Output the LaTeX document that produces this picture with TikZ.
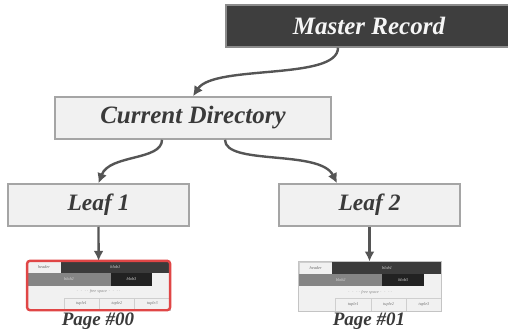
\documentclass[tikz,border=0pt]{standalone}
\usepackage{fontspec}
\setmainfont{Liberation Serif}
\usetikzlibrary{arrows.meta}
\definecolor{boxfill}{HTML}{F1F1F1}
\definecolor{boxline}{HTML}{A5A5A5}
\definecolor{darkfill}{HTML}{3E3E3E}
\definecolor{txtc}{HTML}{3A3A3A}
\definecolor{arrowc}{HTML}{555555}
\definecolor{pgred}{HTML}{E04646}
\definecolor{pgline}{HTML}{C4C4C4}
\definecolor{blobA}{HTML}{3B3B3B}
\definecolor{blobB}{HTML}{858585}
\definecolor{blobC}{HTML}{222222}
\definecolor{cellline}{HTML}{CFCFCF}
\tikzset{
  lbox/.style={draw=boxline, line width=1.5pt, fill=boxfill, minimum height=42pt,
    inner sep=0pt, text=txtc, font=\bfseries\itshape\fontsize{25}{28}\selectfont},
  arr/.style={draw=arrowc, line width=2.4pt, -{Latex[length=10pt,width=10pt]}},
  pgbg/.style={fill=boxfill, draw=none, minimum width=142.7pt, minimum height=49pt, inner sep=0pt},
  cell/.style={anchor=north west, inner sep=0pt, draw=none,
    font=\itshape\fontsize{4.3}{5}\selectfont},
  tcell/.style={cell, fill=boxfill, draw=cellline, line width=0.5pt, minimum width=35.4pt,
    minimum height=12.3pt, text=black!55},
  pglabel/.style={text=txtc, font=\bfseries\itshape\fontsize{19}{21}\selectfont, inner sep=0pt},
  pagepic/.pic={
    \node[cell, fill=boxfill, draw=cellline, line width=0.4pt, minimum width=33.5pt, minimum height=12pt, text=black!60] (-hd) at (0,0) {header};
    \node[cell, fill=blobA, minimum width=109.2pt, minimum height=12pt, text=white!85!black] (-b1) at (33.5,0) {blob1};
    \node[cell, fill=blobB, minimum width=83.5pt, minimum height=12.5pt, text=white!85!black] (-b2) at (0,12) {blob2};
    \node[cell, fill=blobC, minimum width=41.5pt, minimum height=12.5pt, text=white!85!black] (-b3) at (83.5,12) {blob3};
    \node[cell, anchor=center, text=black!45] (-fs) at (71.4,30.5) {$\cdot\cdot\cdot\cdot$ free space $\cdot\cdot\cdot\cdot$};
    \node[tcell] (-t1) at (36.5,36.7) {tuple1};
    \node[tcell] (-t2) at (71.9,36.7) {tuple2};
    \node[tcell] (-t3) at (107.3,36.7) {tuple3};
  }
}
\begin{document}
\begin{tikzpicture}[x=1pt,y=-1pt]
\useasboundingbox (0,0) rectangle (508,331);
\fill[white] (0,0) rectangle (508,331);

\node[lbox, fill=darkfill, draw=boxline!85!black, text=white!96!black, minimum width=286pt] (master) at (369,26) {Master Record};
\node[lbox, minimum width=276pt] (cd) at (193,118) {Current Directory};
\node[lbox, minimum width=181pt, font=\bfseries\itshape\fontsize{23.5}{26}\selectfont] (leaf1) at (98.5,205) {Leaf 1};
\node[lbox, minimum width=181pt, font=\bfseries\itshape\fontsize{23.5}{26}\selectfont] (leaf2) at (369.5,205) {Leaf 2};

% pages
\node[pgbg] (p1) at (98.6,285.5) {};
\pic (pa) at (p1.north west) {pagepic};
\draw[pgred, line width=2.4pt, rounded corners=3pt] (p1.north west) rectangle (p1.south east);

\node[pgbg] (p2) at (370.3,286.2) {};
\pic (pb) at (p2.north west) {pagepic};
\draw[pgline, line width=0.8pt] (p2.north west) rectangle (p2.south east);

\node[pglabel] (l1) at (98,321) {Page \#00};
\node[pglabel] (l2) at (369,321) {Page \#01};

% connectors
\draw[arr] ([xshift=-31pt]master.south) .. controls +(0,33) and +(21,-32) .. (cd.north);
\draw[arr] ([xshift=-31pt]cd.south) .. controls +(0,21) and +(11,-29) .. (leaf1.north);
\draw[arr] ([xshift=32pt]cd.south) .. controls +(0,26) and +(-17,-34) .. ([xshift=-32.5pt]leaf2.north);
\draw[arr] (leaf1.south) -- (p1.north);
\draw[arr] (leaf2.south) -- (leaf2.south |- p2.north);
\end{tikzpicture}
\end{document}
